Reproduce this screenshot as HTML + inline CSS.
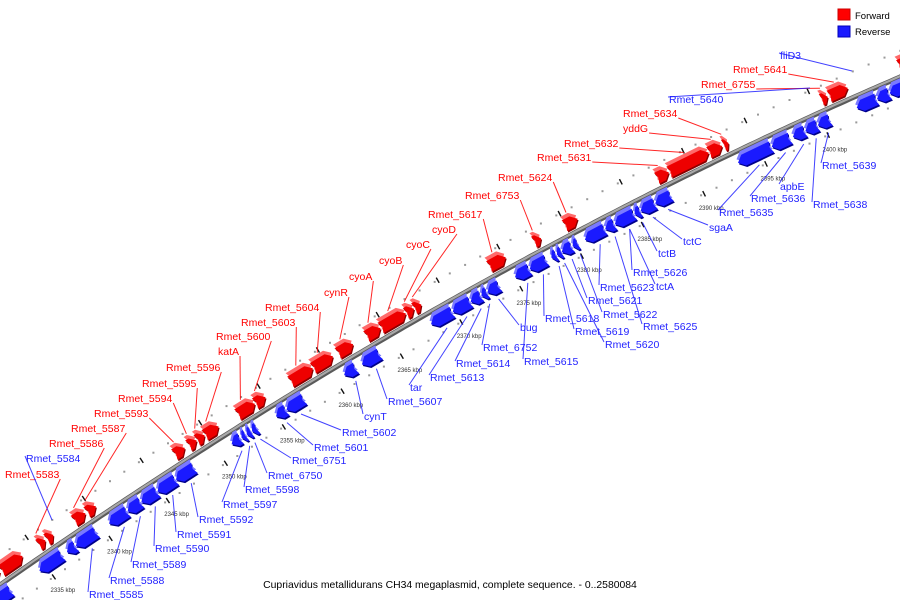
<!DOCTYPE html>
<html><head><meta charset="utf-8"><style>
html,body{margin:0;padding:0;background:#fff;}
svg{display:block;font-family:"Liberation Sans",sans-serif;}
</style></head><body>
<svg id="chart" width="900" height="600" viewBox="0 0 900 600" xmlns="http://www.w3.org/2000/svg">
<g id="dots"></g>
<g id="ticks"></g>
<g id="axis"></g>
<g id="genes"></g>
<g id="labels"></g>
<g>
<rect x="838" y="9" width="12" height="11" fill="#ff0000" stroke="#cc0000"/>
<text x="855" y="19" font-size="9.5" fill="#000">Forward</text>
<rect x="838" y="26" width="12" height="11" fill="#1a1aff" stroke="#0000bb"/>
<text x="855" y="35" font-size="9.5" fill="#000">Reverse</text>
</g>
<text x="450" y="588" font-size="10.4" text-anchor="middle" fill="#000">Cupriavidus metallidurans CH34 megaplasmid, complete sequence. - 0..2580084</text>
</svg>
<script>
const geneNames=["","","Rmet_5583","","Rmet_5586","Rmet_5587","Rmet_5593","Rmet_5594","Rmet_5595","Rmet_5596","katA","Rmet_5600","Rmet_5603","Rmet_5604","cynR","cyoA","cyoB","cyoC","cyoD","Rmet_5617","Rmet_6753","Rmet_5624","Rmet_5631","Rmet_5632","yddG","Rmet_5634","Rmet_6755","Rmet_5641","",
"","","","Rmet_5585","Rmet_5588","Rmet_5589","Rmet_5590","Rmet_5591","Rmet_5592","Rmet_5597","Rmet_5598","Rmet_6750","Rmet_6751","Rmet_5601","Rmet_5602","cynT","Rmet_5607","tar","Rmet_5613","Rmet_5614","Rmet_6752","bug","Rmet_5615","Rmet_5618","Rmet_5619","Rmet_5620","Rmet_5621","Rmet_5622","Rmet_5623","Rmet_5625","Rmet_5626","tctB","tctC","sgaA","Rmet_5635","Rmet_5636","apbE","Rmet_5638","Rmet_5639","","",""];
const geneStart=[2330.5,2332.1,2335.4,2336.1,2338.5,2339.6,2347.2,2348.4,2349.1,2349.8,2352.6,2354.1,2357.1,2359.0,2361.1,2363.5,2364.7,2366.8,2367.5,2373.7,2377.4,2379.9,2387.4,2388.4,2391.6,2392.8,2400.6,2401.2,2406.7,
2330.0,2334.4,2336.8,2337.6,2340.5,2342.1,2343.3,2344.7,2346.3,2351.1,2351.95,2352.4,2352.85,2354.9,2355.8,2360.7,2362.2,2368.0,2369.8,2371.3,2372.2,2372.7,2375.0,2376.2,2378.0,2378.45,2378.85,2379.75,2380.75,2382.4,2383.2,2384.8,2385.3,2386.5,2393.2,2395.9,2397.6,2398.6,2399.6,2402.7,2404.3,2405.3];
const geneEnd=[2332.0,2334.0,2336.0,2336.7,2339.5,2340.4,2348.1,2349.1,2349.8,2351.0,2354.1,2355.0,2359.0,2360.7,2362.4,2364.7,2366.8,2367.5,2368.1,2375.1,2378.0,2381.0,2388.4,2391.6,2392.7,2393.2,2401.1,2402.7,2408.5,
2331.9,2336.4,2337.6,2339.4,2342.1,2343.3,2344.7,2346.3,2347.9,2351.9,2352.35,2352.8,2353.3,2355.8,2357.3,2361.7,2363.7,2369.8,2371.3,2372.2,2372.7,2373.7,2376.2,2377.6,2378.4,2378.85,2379.7,2380.2,2382.4,2383.2,2384.8,2385.3,2386.5,2387.8,2395.9,2397.4,2398.6,2399.6,2400.6,2404.3,2405.3,2407.0];
const geneStrand=[1,1,1,1,1,1,1,1,1,1,1,1,1,1,1,1,1,1,1,1,1,1,1,1,1,1,1,1,1,
-1,-1,-1,-1,-1,-1,-1,-1,-1,-1,-1,-1,-1,-1,-1,-1,-1,-1,-1,-1,-1,-1,-1,-1,-1,-1,-1,-1,-1,-1,-1,-1,-1,-1,-1,-1,-1,-1,-1,-1,-1,-1];
const tickKbp=[2335,2340,2345,2350,2355,2360,2365,2370,2375,2380,2385,2390,2395,2400];
const tickLabels=tickKbp.map(k=>k+" kbp");
const labelLayout=[
["Rmet_5583",5,474,"Rmet_5583"],["Rmet_5586",49,443,"Rmet_5586"],["Rmet_5587",71,428,"Rmet_5587"],["Rmet_5593",94,413,"Rmet_5593"],["Rmet_5594",118,398,"Rmet_5594"],["Rmet_5595",142,383,"Rmet_5595"],["Rmet_5596",166,367,"Rmet_5596"],["katA",218,351,"katA"],["Rmet_5600",216,336,"Rmet_5600"],["Rmet_5603",241,322,"Rmet_5603"],["Rmet_5604",265,307,"Rmet_5604"],["cynR",324,292,"cynR"],["cyoA",349,276,"cyoA"],["cyoB",379,260,"cyoB"],["cyoC",406,244,"cyoC"],["cyoD",432,229,"cyoD"],["Rmet_5617",428,214,"Rmet_5617"],["Rmet_6753",465,195,"Rmet_6753"],["Rmet_5624",498,177,"Rmet_5624"],["Rmet_5631",537,157,"Rmet_5631"],["Rmet_5632",564,143,"Rmet_5632"],["yddG",623,128,"yddG"],["Rmet_5634",623,113,"Rmet_5634"],["Rmet_6755",701,84,"Rmet_6755"],["Rmet_5641",733,69,"Rmet_5641"],
["Rmet_5584",26,458,null,52,520],["Rmet_5585",89,594,"Rmet_5585"],["Rmet_5588",110,580,"Rmet_5588"],["Rmet_5589",132,564,"Rmet_5589"],["Rmet_5590",155,548,"Rmet_5590"],["Rmet_5591",177,534,"Rmet_5591"],["Rmet_5592",199,519,"Rmet_5592"],["Rmet_5597",223,504,"Rmet_5597"],["Rmet_5598",245,489,"Rmet_5598"],["Rmet_6750",268,475,"Rmet_6750"],["Rmet_6751",292,460,"Rmet_6751"],["Rmet_5601",314,447,"Rmet_5601"],["Rmet_5602",342,432,"Rmet_5602"],["cynT",364,416,"cynT"],["Rmet_5607",388,401,"Rmet_5607"],["tar",410,387,"tar"],["Rmet_5613",430,377,"Rmet_5613"],["Rmet_5614",456,363,"Rmet_5614"],["Rmet_6752",483,347,"Rmet_6752"],["bug",520,327,"bug"],["Rmet_5615",524,361,"Rmet_5615"],["Rmet_5618",545,318,"Rmet_5618"],["Rmet_5619",575,331,"Rmet_5619"],["Rmet_5620",605,344,"Rmet_5620"],["Rmet_5621",588,300,"Rmet_5621"],["Rmet_5622",603,314,"Rmet_5622"],["Rmet_5623",600,287,"Rmet_5623"],["Rmet_5625",643,326,"Rmet_5625"],["tctA",656,286,"Rmet_5626"],["Rmet_5626",633,272,"Rmet_5626"],["tctB",658,253,"tctB"],["tctC",683,241,"tctC"],["sgaA",709,227,"sgaA"],["Rmet_5635",719,212,"Rmet_5635"],["Rmet_5636",751,198,"Rmet_5636"],["apbE",780,186,"apbE"],["Rmet_5638",813,204,"Rmet_5638"],["Rmet_5639",822,165,"Rmet_5639"],["Rmet_5640",669,99,null,810,88],["fliD3",780,55,null,852,71]];

const NS="http://www.w3.org/2000/svg";
const cy=x=>585-0.6985*x+0.000149*x*x;
const slope=x=>-0.6985+0.000298*x;
const XS=[],SS=[];
(function(){let s=0,px=-100,py=cy(-100);for(let x=-100;x<=1000;x+=0.25){const y=cy(x);s+=Math.hypot(x-px,y-py);XS.push(x);SS.push(s);px=x;py=y;}})();
function sAt(x){const i=Math.round((x+100)/0.25);return SS[Math.max(0,Math.min(SS.length-1,i))];}
const sRef=sAt(632),PXK=13.8;
function xOfKbp(k){const s=sRef+(k-2385)*PXK;let lo=0,hi=SS.length-1;while(hi-lo>1){const m=(lo+hi)>>1;if(SS[m]<s)lo=m;else hi=m;}return XS[lo];}
function pt(k,off){const x=xOfKbp(k),m=slope(x),n=Math.hypot(1,m);return [x+(-m/n)*off,cy(x)+(1/n)*off];}
function mk(tag,attrs,parent){const e=document.createElementNS(NS,tag);for(const a in attrs)e.setAttribute(a,attrs[a]);parent.appendChild(e);return e;}
const P=a=>a.map(p=>p[0].toFixed(1)+","+p[1].toFixed(1)).join(" ");

const gAxis=document.getElementById("axis");
let ap=[];for(let x=-10;x<=910;x+=5)ap.push([x,cy(x)]);
let ax1=mk("polyline",{points:P(ap),fill:"none",stroke:"#5a5a5a","stroke-width":5},gAxis);


let ax2=mk("polyline",{points:P(ap.map(p=>[p[0],p[1]-0.8])),fill:"none",stroke:"#a8a8a8","stroke-width":2.2},gAxis);



const gDots=document.getElementById("dots");
for(let k=2326;k<=2412;k+=1.25){
  for(const off of [-24,24]){
    const p=pt(k,off);
    if(p[0]<-5||p[0]>905)continue;
    const d=mk("rect",{x:(p[0]-1).toFixed(1),y:(p[1]-1).toFixed(1),width:2,height:2,fill:"#999"},gDots);
    
    
  }
}
const gT=document.getElementById("ticks");
tickKbp.forEach((k,i)=>{
  for(const off of [-24,24]){
    const a=pt(k,off-3),b=pt(k,off+3);
    const t=mk("line",{x1:a[0],y1:a[1],x2:b[0],y2:b[1],stroke:"#111","stroke-width":1.4},gT);
    
    
  }
  const lp=pt(k,40);
  const tl=mk("text",{x:lp[0].toFixed(1),y:(lp[1]+2).toFixed(1),"font-size":6,"text-anchor":"middle",fill:"#333"},gT);
  tl.textContent=tickLabels[i];
  
  
});

const gG=document.getElementById("genes");
function genePoly(s,e,str){
  const len=e-s,ah=Math.min(0.45,len*0.6),no=Math.min(0.15,len*0.2);
  if(str>0){const v1=-5,v2=-17,vm=-11;return [pt(s,v1),pt(e-ah,v1),pt(e,vm),pt(e-ah,v2),pt(s,v2),pt(s+no,vm)];}
  const v1=5,v2=17,vm=11;return [pt(e,v1),pt(s+ah,v1),pt(s,vm),pt(s+ah,v2),pt(e,v2),pt(e-no,vm)];
}
geneStart.forEach((s,i)=>{
  const e=geneEnd[i],str=geneStrand[i];
  const poly=genePoly(s,e,str);
  const g=mk("g",{},gG);
  
  
  const cols=str>0?["#8a0000","#ff6a6a","#ee0000"]:["#00008a","#7a7aff","#1a1aff"];
  const sh=mk("polygon",{points:P(poly.map(p=>[p[0]+1,p[1]+1.5])),fill:cols[0]},g);
  
  
  const lt=mk("polygon",{points:P(poly.map(p=>[p[0]-1.5,p[1]-3.5])),fill:cols[1]},g);
  
  
  const bd=mk("polygon",{points:P(poly),fill:cols[2]},g);
  
  
});

const gL=document.getElementById("labels");
labelLayout.forEach(L=>{
  const [txt,x,y,tgt,ex,ey]=L;
  let end,str;
  if(tgt){const i=geneNames.indexOf(tgt);str=geneStrand[i];end=pt((geneStart[i]+geneEnd[i])/2,str>0?-22:22);}
  else{str=-1;end=[ex,ey];}
  const col=str>0?"#ff0000":"#2222ff";
  const t=mk("text",{x:x,y:y+4,"font-size":10.5,fill:col},gL);
  t.textContent=txt;
  
  
  const w=t.getComputedTextLength();
  const st=str>0?[x+w+1,y+5]:[x-1,y-2];
  const ln=mk("line",{x1:st[0],y1:st[1],x2:end[0].toFixed(1),y2:end[1].toFixed(1),stroke:col,"stroke-width":1,opacity:0.85},gL);
  
  
});
</script>
</body></html>
